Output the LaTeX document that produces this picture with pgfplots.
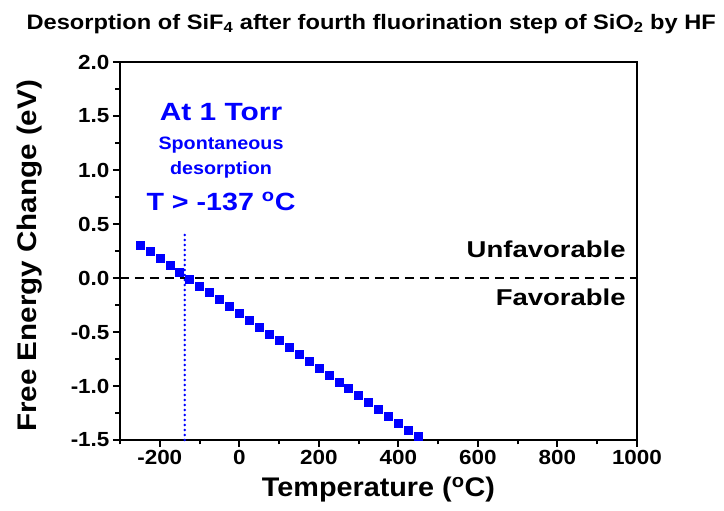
\documentclass[border=0pt]{standalone}
\usepackage{pgfplots}
\pgfplotsset{compat=1.18}
\usepackage{fontspec}
\setmainfont{Liberation Sans}
% the reference text is set a little wider than plain Arial
\newcommand\wide[2]{\scalebox{#1}[1]{#2}}
\begin{document}
\begin{tikzpicture}
\begin{axis}[
    scale only axis,
    width=517bp, height=378bp,
    xmin=-300, xmax=1000,
    ymin=-1.5, ymax=2.0,
    axis lines*=left,
    axis line style={line width=2.6bp},
    clip=false,
    xtick={-200,0,...,1000},
    minor xtick={-300,-100,...,900},
    ytick={-1.5,-1.0,...,2.0},
    minor ytick={-1.25,-0.75,...,1.75},
    tick align=outside,
    major tick length=7bp,
    minor tick length=4.5bp,
    tick style={line width=2bp, black},
    /pgf/number format/assume math mode=true,
    /pgf/number format/1000 sep={},
    yticklabel style={/pgf/number format/.cd,fixed,fixed zerofill,precision=1},
    xticklabel style={/pgf/number format/.cd,fixed,precision=0},
    xticklabel={\wide{1.1}{\pgfmathprintnumber{\tick}}},
    yticklabel={\wide{1.1}{\pgfmathprintnumber{\tick}}},
    tick label style={font=\bfseries\fontsize{20.5}{22}\selectfont},
]
% dashed zero line
\addplot[black, line width=1.4bp, dash pattern=on 9bp off 6bp] coordinates {(-300,0) (1000,0)};
% vertical dotted line at -137 C
\addplot[blue, line width=2.8bp, line cap=round, dash pattern=on 0bp off 5bp] coordinates {(-137,-1.5) (-137,0.40)};
% free energy change
\addplot[only marks, mark=square*, mark size=4bp, color=blue, mark options={fill=blue, draw=blue}]
coordinates {
(-250,0.308) (-225,0.245) (-200,0.181) (-175,0.118) (-150,0.054)
(-125,-0.009) (-100,-0.073) (-75,-0.136) (-50,-0.200) (-25,-0.263)
(0,-0.327) (25,-0.390) (50,-0.453) (75,-0.517) (100,-0.580)
(125,-0.644) (150,-0.707) (175,-0.771) (200,-0.834) (225,-0.898)
(250,-0.961) (275,-1.025) (300,-1.088) (325,-1.152) (350,-1.215)
(375,-1.278) (400,-1.342) (425,-1.405) (450,-1.469)
};
% box on top and right
\draw[line width=2.6bp] (rel axis cs:0,1) -- (rel axis cs:1,1) -- (rel axis cs:1,0);
% axis labels
\node[font=\bfseries\fontsize{27}{30}\selectfont] at (axis description cs:0.5,-0.132)
  {\wide{1.07}{Temperature (\textsuperscript{o}C)}};
\node[rotate=90, font=\bfseries\fontsize{27}{30}\selectfont] at (axis description cs:-0.174,0.487)
  {\wide{1.1}{Free Energy Change (eV)}};
% annotations
\node[blue, font=\bfseries\fontsize{25}{27}\selectfont] at (axis cs:-46,1.54) {\wide{1.2}{At 1 Torr}};
\node[blue, font=\bfseries\fontsize{18}{20}\selectfont] at (axis cs:-46,1.234) {\wide{1.1}{Spontaneous}};
\node[blue, font=\bfseries\fontsize{18}{20}\selectfont] at (axis cs:-46,1.003) {\wide{1.1}{desorption}};
\node[blue, font=\bfseries\fontsize{25}{27}\selectfont] at (axis cs:-46,0.709) {\wide{1.15}{T > -137 \textsuperscript{o}C}};
\node[anchor=east, inner sep=0pt, font=\bfseries\fontsize{23}{25}\selectfont] at (axis cs:972,0.262) {\wide{1.2}{Unfavorable}};
\node[anchor=east, inner sep=0pt, font=\bfseries\fontsize{23}{25}\selectfont] at (axis cs:972,-0.182) {\wide{1.2}{Favorable}};
% title
\node[font=\bfseries\fontsize{21}{23}\selectfont] at (axis description cs:0.486,1.1)
  {\wide{1.13}{Desorption of SiF\textsubscript{4} after fourth fluorination step of SiO\textsubscript{2} by HF}};
\coordinate (bbA) at (axis description cs:-0.2321,-0.1878);
\coordinate (bbB) at (axis description cs:1.1683,1.164);
\end{axis}
\pgfresetboundingbox
\path[use as bounding box] (bbA) rectangle (bbB);
\end{tikzpicture}
\end{document}
